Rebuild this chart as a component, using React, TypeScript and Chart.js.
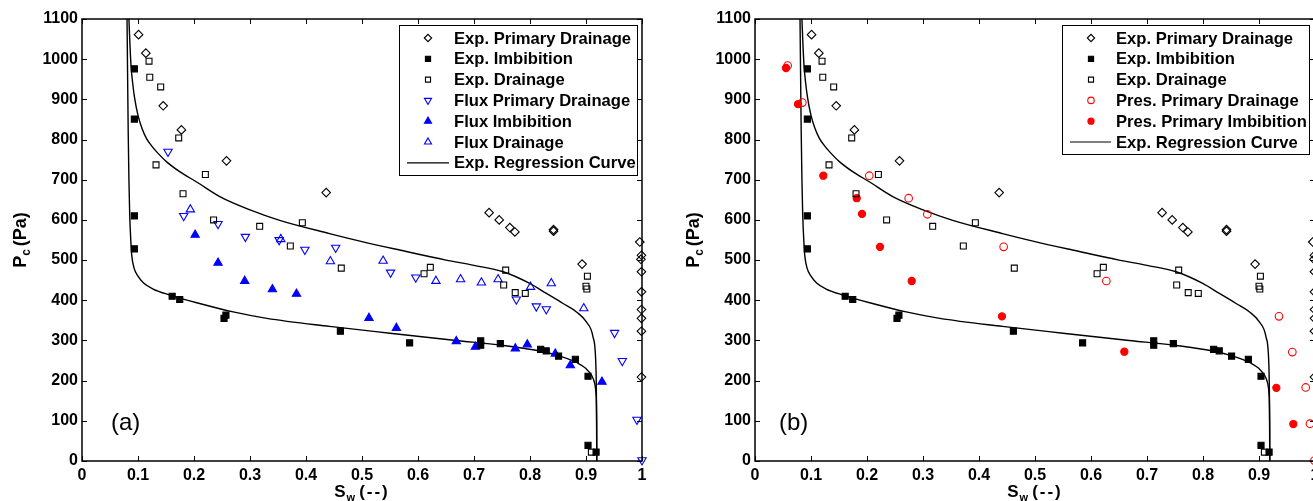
import React, { useEffect, useRef } from 'react';
import { Chart, registerables } from 'chart.js';
import { drawPoint } from 'chart.js/helpers';

Chart.register(...registerables);

const FONT = "'Liberation Sans', Arial, Helvetica, sans-serif";

// ---------- tick values ----------
const xTickValues = [0, 0.1, 0.2, 0.3, 0.4, 0.5, 0.6, 0.7, 0.8, 0.9, 1];
const yTickValues = [0, 100, 200, 300, 400, 500, 600, 700, 800, 900, 1000, 1100];

type Pt = [number, number];

// ---------- experimental data (shared by both panels) ----------
const expPrimaryDrainage: Pt[] = [
  [0.101, 1061], [0.114, 1015], [0.145, 884], [0.1775, 824], [0.258, 747], [0.436, 668],
  [0.727, 618], [0.745, 600], [0.764, 581], [0.773, 570], [0.842, 576], [0.842, 572],
  [0.893, 490], [0.996, 545], [0.999, 512], [0.998, 502], [0.999, 471], [0.999, 421],
  [0.999, 377], [0.999, 355], [0.999, 323], [0.999, 209],
];
const expImbibition: Pt[] = [
  [0.0935, 976], [0.0935, 851], [0.0935, 610], [0.0935, 528], [0.161, 410], [0.1745, 402],
  [0.2536, 355], [0.257, 363], [0.4614, 323], [0.585, 294], [0.712, 299], [0.712, 288],
  [0.747, 292], [0.819, 278], [0.829, 274], [0.851, 261], [0.881, 253], [0.9036, 211],
  [0.9036, 39], [0.918, 22],
];
const expDrainage: Pt[] = [
  [0.1197, 995], [0.121, 955], [0.1405, 931], [0.1727, 804], [0.1322, 737], [0.2203, 713],
  [0.1804, 665], [0.235, 600], [0.3173, 584], [0.3935, 593], [0.372, 535], [0.463, 480],
  [0.6108, 466], [0.622, 482], [0.7566, 475], [0.753, 438], [0.7736, 419], [0.7916, 417],
  [0.9025, 460], [0.9, 435], [0.9015, 428], [0.9096, 22],
];

// ---------- panel (a): flux simulations ----------
const fluxPrimaryDrainage: Pt[] = [
  [0.1536, 770], [0.1816, 610], [0.2429, 590], [0.2917, 558], [0.352, 550], [0.398, 526],
  [0.453, 531], [0.551, 469], [0.596, 457], [0.7756, 402], [0.8113, 385], [0.8291, 378],
  [0.951, 319], [0.9648, 249], [0.991, 103], [1.0, 2],
];
const fluxImbibition: Pt[] = [
  [0.202, 563], [0.2429, 493], [0.2905, 448], [0.34, 427], [0.383, 416], [0.5125, 356],
  [0.5614, 331], [0.6684, 298], [0.7025, 284], [0.7738, 280], [0.7952, 290], [0.8452, 267],
  [0.872, 238], [0.9285, 197],
];
const fluxDrainage: Pt[] = [
  [0.1935, 626], [0.355, 552], [0.4435, 497], [0.5377, 498], [0.632, 448], [0.676, 452],
  [0.7132, 444], [0.743, 452], [0.801, 433], [0.838, 442], [0.896, 380],
];

// ---------- panel (b): pressure simulations ----------
const presPrimaryDrainage: Pt[] = [
  [0.0583, 984], [0.0845, 892], [0.2041, 710], [0.2744, 654], [0.3077, 614], [0.444, 533],
  [0.6274, 448], [0.9357, 360], [0.9595, 271], [0.9834, 183], [0.991, 93], [0.999, 1],
];
const presPrimaryImbibition: Pt[] = [
  [0.0554, 978], [0.0768, 888], [0.122, 710], [0.1816, 654], [0.1911, 615], [0.2232, 533],
  [0.2798, 448], [0.441, 360], [0.6595, 272], [0.931, 182], [0.9613, 92],
];

// ---------- regression curves ----------
const regressionUpper: Pt[] = [
  [0.0838, 1100], [0.0855, 1040], [0.0875, 985], [0.0905, 940], [0.094, 903], [0.1, 860],
  [0.107, 828], [0.115, 803], [0.125, 783], [0.133, 770], [0.1507, 745], [0.1745, 720],
  [0.204, 695], [0.246, 658], [0.3, 625], [0.353, 599], [0.442, 566], [0.5, 546],
  [0.567, 525], [0.65, 500], [0.7, 487], [0.752, 471], [0.7995, 442], [0.8293, 417],
  [0.859, 392], [0.883, 371], [0.9007, 346], [0.9125, 309], [0.9173, 251], [0.9185, 176],
  [0.919, 80], [0.9192, 0],
];
const regressionLower: Pt[] = [
  [0.0804, 1100], [0.0815, 950], [0.0825, 820], [0.0838, 700], [0.0852, 612], [0.0875, 540],
  [0.089, 510], [0.093, 480], [0.1, 460], [0.11, 443], [0.127, 428], [0.157, 413],
  [0.21, 392], [0.27, 371], [0.33, 355], [0.442, 335], [0.55, 318], [0.668, 300],
  [0.75, 288], [0.82, 273], [0.86, 258], [0.885, 244], [0.9, 230], [0.91, 213],
  [0.915, 196], [0.918, 165], [0.919, 100], [0.9192, 0],
];

// ---------- helpers ----------
const BLACK = '#000000';
const BLUE = '#0000ff';
const RED = '#ff0000';
const NONE = 'rgba(0,0,0,0)';

const toXY = (pts: Pt[]) => pts.map(([x, y]) => ({ x, y }));

function markerSet(label: string, pts: Pt[], style: string, radius: number, stroke: string, fill: string, rotation = 0) {
  return {
    label,
    data: toXY(pts),
    showLine: false,
    pointStyle: style,
    pointRadius: radius,
    pointHoverRadius: radius,
    pointRotation: rotation,
    pointBorderColor: stroke,
    pointBackgroundColor: fill,
    pointBorderWidth: 1.1,
    borderColor: stroke,
    backgroundColor: fill,
    borderWidth: 1.1,
    clip: false,
  };
}

function curveSet(label: string, pts: Pt[]) {
  return {
    label,
    data: toXY(pts),
    showLine: true,
    pointRadius: 0,
    pointHoverRadius: 0,
    borderColor: BLACK,
    backgroundColor: BLACK,
    borderWidth: 1.4,
    cubicInterpolationMode: 'monotone',
    fill: false,
  };
}

const commonSets = () => [
  markerSet('Exp. Primary Drainage', expPrimaryDrainage, 'rectRot', 4.3, BLACK, NONE),
  markerSet('Exp. Imbibition', expImbibition, 'rect', 4.3, BLACK, BLACK),
  markerSet('Exp. Drainage', expDrainage, 'rect', 4.2, BLACK, NONE),
];

const datasetsA = () => [
  ...commonSets(),
  markerSet('Flux Primary Drainage', fluxPrimaryDrainage, 'triangle', 4.8, BLUE, NONE, 180),
  markerSet('Flux Imbibition', fluxImbibition, 'triangle', 4.8, BLUE, BLUE),
  markerSet('Flux Drainage', fluxDrainage, 'triangle', 4.8, BLUE, NONE),
  curveSet('Exp. Regression Curve', regressionUpper),
  curveSet('Exp. Regression Curve (imbibition)', regressionLower),
];

const datasetsB = () => [
  ...commonSets(),
  markerSet('Pres. Primary Drainage', presPrimaryDrainage, 'circle', 3.8, RED, NONE),
  markerSet('Pres. Primary Imbibition', presPrimaryImbibition, 'circle', 3.6, RED, RED),
  curveSet('Exp. Regression Curve', regressionUpper),
  curveSet('Exp. Regression Curve (imbibition)', regressionLower),
];

// ---------- MATLAB-style frame, titles, legend ----------
const matlabPlugin = {
  id: 'matlab',
  afterDraw(chart: any, _args: any, opts: any) {
    const { ctx, chartArea: a } = chart;
    const xs = chart.scales.x;
    const ys = chart.scales.y;
    ctx.save();

    // inward tick marks on all four sides
    ctx.strokeStyle = BLACK;
    ctx.lineWidth = 1;
    ctx.beginPath();
    xs.ticks.forEach((t: any) => {
      const px = Math.round(xs.getPixelForValue(t.value)) + 0.5;
      ctx.moveTo(px, a.bottom);
      ctx.lineTo(px, a.bottom - 5);
      ctx.moveTo(px, a.top);
      ctx.lineTo(px, a.top + 5);
    });
    ys.ticks.forEach((t: any) => {
      const py = Math.round(ys.getPixelForValue(t.value)) + 0.5;
      ctx.moveTo(a.left, py);
      ctx.lineTo(a.left + 5, py);
      ctx.moveTo(a.right, py);
      ctx.lineTo(a.right - 5, py);
    });
    ctx.stroke();

    // box
    ctx.lineWidth = 1.5;
    ctx.strokeRect(a.left, a.top, a.right - a.left, a.bottom - a.top);

    // x title: S_w (--)
    ctx.fillStyle = BLACK;
    ctx.textAlign = 'left';
    ctx.textBaseline = 'alphabetic';
    const bigX = `bold 17px ${FONT}`;
    const smallX = `bold 11px ${FONT}`;
    ctx.font = bigX;
    const wS = ctx.measureText('S').width;
    (ctx as any).letterSpacing = '2px';
    const wP = ctx.measureText('(--)').width;
    (ctx as any).letterSpacing = '0px';
    ctx.font = smallX;
    const wW = ctx.measureText('w').width;
    const gap = 5;
    const totalX = wS + wW + gap + wP;
    const sx = (a.left + a.right) / 2 - totalX / 2;
    const by = 497;
    ctx.font = bigX;
    ctx.fillText('S', sx, by);
    ctx.font = smallX;
    ctx.fillText('w', sx + wS + 1, by + 4);
    ctx.font = bigX;
    (ctx as any).letterSpacing = '2px';
    ctx.fillText('(--)', sx + wS + wW + gap, by);
    (ctx as any).letterSpacing = '0px';

    // y title: P_c (Pa), rotated
    const big = `bold 18px ${FONT}`;
    const small = `bold 12px ${FONT}`;
    ctx.font = big;
    const wPc = ctx.measureText('P').width;
    const wPa = ctx.measureText('(Pa)').width;
    ctx.font = small;
    const wc = ctx.measureText('c').width;
    const gapY = 3;
    const totalY = wPc + wc + gapY + wPa;
    ctx.save();
    ctx.translate(25.5, (a.top + a.bottom) / 2);
    ctx.rotate(-Math.PI / 2);
    const tx = -totalY / 2;
    ctx.font = big;
    ctx.fillText('P', tx, 0);
    ctx.font = small;
    ctx.fillText('c', tx + wPc, 4);
    ctx.font = big;
    ctx.fillText('(Pa)', tx + wPc + wc + gapY, 0);
    ctx.restore();

    // panel label
    ctx.font = `24px ${FONT}`;
    ctx.fillText(opts.panelLabel, opts.panelLabelX, 430);

    // legend
    const lg = opts.legend;
    ctx.fillStyle = '#ffffff';
    ctx.fillRect(lg.left, lg.top, lg.right - lg.left, lg.bottom - lg.top);
    ctx.strokeStyle = BLACK;
    ctx.lineWidth = 1;
    ctx.strokeRect(lg.left + 0.5, lg.top + 0.5, lg.right - lg.left, lg.bottom - lg.top);
    lg.items.forEach((di: number, i: number) => {
      const ds = chart.data.datasets[di];
      const yy = lg.rowY0 + i * lg.rowStep;
      if (ds.showLine) {
        ctx.strokeStyle = ds.borderColor;
        ctx.lineWidth = 1.2;
        ctx.beginPath();
        ctx.moveTo(lg.lineX0, yy);
        ctx.lineTo(lg.lineX1, yy);
        ctx.stroke();
      } else {
        ctx.fillStyle = ds.pointBackgroundColor;
        ctx.strokeStyle = ds.pointBorderColor;
        ctx.lineWidth = ds.pointBorderWidth;
        drawPoint(ctx, {
          pointStyle: ds.pointStyle,
          rotation: ds.pointRotation || 0,
          radius: ds.pointRadius * 0.85,
          borderWidth: ds.pointBorderWidth,
        } as any, lg.markerX, yy);
      }
      ctx.fillStyle = BLACK;
      ctx.font = `bold 16.6px ${FONT}`;
      ctx.textAlign = 'left';
      ctx.textBaseline = 'middle';
      ctx.fillText(ds.label, lg.textX, yy + 1);
    });

    ctx.restore();
  },
};

function makeConfig(datasets: any[], pluginOpts: any): any {
  return {
    type: 'scatter',
    data: { datasets },
    plugins: [matlabPlugin],
    options: {
      responsive: false,
      maintainAspectRatio: false,
      animation: false,
      devicePixelRatio: 1,
      events: [],
      layout: { padding: { left: 0, right: 18, top: 19, bottom: 0 } },
      scales: {
        x: {
          type: 'linear',
          min: 0,
          max: 1,
          afterBuildTicks: (s: any) => { s.ticks = xTickValues.map((v) => ({ value: v })); },
          afterFit: (s: any) => { s.height = 40; },
          grid: { display: false, drawTicks: false },
          border: { display: false },
          ticks: {
            padding: 5,
            color: BLACK,
            maxRotation: 0,
            autoSkip: false,
            font: { family: FONT, size: 16, weight: 'bold' },
            callback: (v: number) => String(v),
          },
        },
        y: {
          type: 'linear',
          min: 0,
          max: 1100,
          afterBuildTicks: (s: any) => { s.ticks = yTickValues.map((v) => ({ value: v })); },
          afterFit: (s: any) => { s.width = 82; },
          grid: { display: false, drawTicks: false },
          border: { display: false },
          ticks: {
            padding: 4,
            color: BLACK,
            autoSkip: false,
            font: { family: FONT, size: 16, weight: 'bold' },
            callback: (v: number) => String(v),
          },
        },
      },
      plugins: {
        legend: { display: false },
        tooltip: { enabled: false },
        matlab: pluginOpts,
      },
    },
  };
}

const legendA = {
  left: 399, right: 637, top: 25, bottom: 175,
  rowY0: 38, rowStep: 20.8, markerX: 428, textX: 454, lineX0: 407, lineX1: 449,
  items: [0, 1, 2, 3, 4, 5, 6],
};
const legendB = {
  left: 389, right: 636, top: 25, bottom: 154,
  rowY0: 38, rowStep: 20.8, markerX: 418, textX: 443, lineX0: 397, lineX1: 438,
  items: [0, 1, 2, 3, 4, 5],
};

function Panel({ left, datasets, pluginOpts }: { left: number; datasets: any[]; pluginOpts: any }) {
  const ref = useRef<HTMLCanvasElement | null>(null);
  useEffect(() => {
    if (!ref.current) return;
    const chart = new Chart(ref.current, makeConfig(datasets, pluginOpts));
    return () => chart.destroy();
  }, []);
  return (
    <canvas
      ref={ref}
      width={660}
      height={501}
      style={{ position: 'absolute', left, top: 0, width: 660, height: 501, display: 'block' }}
    />
  );
}

export default function App() {
  return (
    <div style={{ position: 'absolute', left: 0, top: 0, width: 1313, height: 501, overflow: 'hidden', background: '#fff' }}>
      <Panel left={0} datasets={datasetsA()} pluginOpts={{ panelLabel: '(a)', panelLabelX: 111, legend: legendA }} />
      <Panel left={673} datasets={datasetsB()} pluginOpts={{ panelLabel: '(b)', panelLabelX: 106, legend: legendB }} />
    </div>
  );
}
